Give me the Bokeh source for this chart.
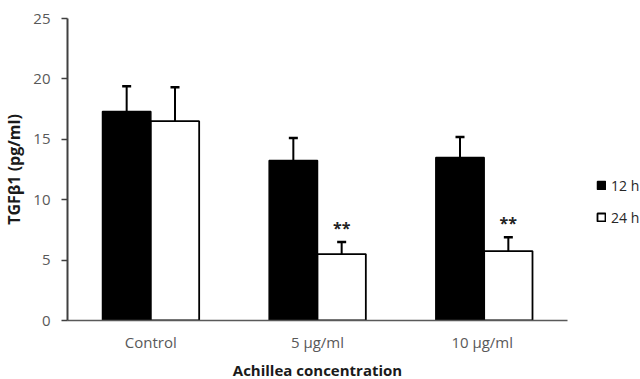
from bokeh.plotting import figure
from bokeh.models import (ColumnDataSource, FactorRange, Range1d, FixedTicker,
                          Whisker, TeeHead, Legend, LegendItem)
from bokeh.transform import dodge
from bokeh.core.properties import value
from bokeh.embed import file_html
from bokeh.resources import INLINE

categories = ["Control", "5 µg/ml", "10  µg/ml"]
series = ["12 h", "24 h"]
values_12h = [17.3, 13.25, 13.5]
errors_12h = [2.1, 1.85, 1.7]
values_24h = [16.5, 5.5, 5.75]
errors_24h = [2.8, 1.0, 1.15]
stars_24h = ["", "**", "**"]
y_ticks = [0, 5, 10, 15, 20, 25]

FONT = "Open Sans"

src = ColumnDataSource(dict(
    cat=categories,
    v12=values_12h,
    u12=[v + e for v, e in zip(values_12h, errors_12h)],
    v24=values_24h,
    u24=[v + e for v, e in zip(values_24h, errors_24h)],
    stars=stars_24h,
))

p = figure(frame_width=500, frame_height=302, output_backend="svg", toolbar_location=None,
           x_range=FactorRange(*categories, range_padding=0),
           y_range=Range1d(0, 25),
           min_border_left=66, min_border_right=0, min_border_top=18,
           min_border_bottom=57)
p.outline_line_color = None
p.grid.visible = False
p.background_fill_color = "white"

off = 0.145
bw = 0.29
r12 = p.vbar(x=dodge("cat", -off, range=p.x_range), top="v12", width=bw, source=src,
             fill_color="black", line_color="black", line_width=1.5)
r24 = p.vbar(x=dodge("cat", off, range=p.x_range), top="v24", width=bw, source=src,
             fill_color="white", line_color="black", line_width=1.8)

for base, lo, up in [(-off, "v12", "u12"), (off, "v24", "u24")]:
    w = Whisker(base=dodge("cat", base, range=p.x_range), lower=lo, upper=up, source=src,
                line_color="black", line_width=2,
                upper_head=TeeHead(size=9, line_width=2.5, line_color="black"),
                lower_head=None, level="overlay")
    p.add_layout(w)

p.text(x=dodge("cat", off, range=p.x_range), y="u24", text="stars", source=src,
       text_align="center", text_baseline="bottom", y_offset=-3,
       text_font=value(FONT), text_font_style="bold", text_font_size="16px",
       text_color="#222222")

# axes
p.yaxis.ticker = FixedTicker(ticks=y_ticks)
p.yaxis.minor_tick_line_color = None
p.yaxis.major_tick_out = 6
p.yaxis.major_tick_in = 0
p.yaxis.major_tick_line_color = "#404040"
p.yaxis.major_tick_line_width = 1.5
p.yaxis.axis_line_color = "#404040"
p.yaxis.axis_line_width = 2
p.yaxis.major_label_standoff = 11
p.yaxis.axis_label = "TGFβ1 (pg/ml)"
p.yaxis.axis_label_standoff = 5

p.xaxis.major_tick_line_color = None
p.xaxis.minor_tick_line_color = None
p.xaxis.major_tick_out = 0
p.xaxis.axis_line_color = "#595959"
p.xaxis.axis_line_width = 1.5
p.xaxis.major_label_standoff = 11
p.xaxis.axis_label = "Achillea concentration"
p.xaxis.axis_label_standoff = 5

for ax in (p.xaxis, p.yaxis):
    ax.major_label_text_font = FONT
    ax.major_label_text_font_size = "15px"
    ax.major_label_text_color = "#595959"
    ax.axis_label_text_font = FONT
    ax.axis_label_text_font_style = "bold"
    ax.axis_label_text_color = "#1a1a1a"
p.xaxis.axis_label_text_font_size = "15px"
p.yaxis.axis_label_text_font_size = "16px"

legend = Legend(items=[LegendItem(label=series[0], renderers=[r12]),
                       LegendItem(label=series[1], renderers=[r24])],
                location=(29, 93), padding=0, margin=0,
                border_line_color=None, background_fill_alpha=0,
                glyph_width=10, glyph_height=10, label_height=20, spacing=12,
                label_standoff=5, label_text_font=FONT, label_text_font_size="14px",
                label_text_color="#262626")
p.add_layout(legend, "right")

open("out.html", "w").write(file_html(p, INLINE))
